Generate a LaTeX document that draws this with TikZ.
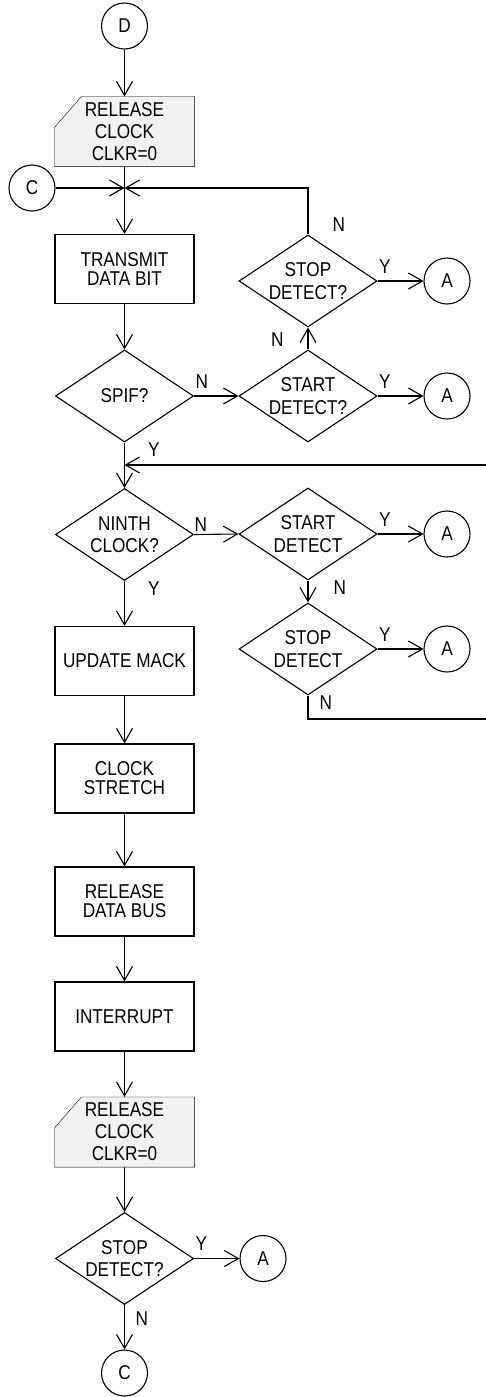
\documentclass[tikz,border=0pt]{standalone}
\usepackage{fontspec}
\setmainfont{Liberation Sans}[FakeStretch=0.86]
\usepackage{tikz}
\usetikzlibrary{arrows.meta,shapes.geometric,backgrounds}
\definecolor{clkgray}{RGB}{242,242,242}

\begin{document}
\begin{tikzpicture}[x=1pt,y=-1pt,line width=1.1pt,
   every node/.style={font=\fontsize{20}{22}\selectfont},
   >={Straight Barb[length=14pt,width=16pt]},
   box/.style={draw,rectangle,minimum width=139pt,minimum height=69pt,inner sep=2pt,
      align=center,font=\fontsize{20}{19}\selectfont},
   clk/.style={rectangle,minimum width=139pt,minimum height=69pt,inner sep=2pt,align=center},
   dec/.style={draw,diamond,minimum width=138pt,minimum height=92pt,inner sep=0pt},
   dtxt/.style={align=center,inner sep=0pt,font=\fontsize{20}{22.5}\selectfont},
   con/.style={draw,circle,minimum size=46pt,inner sep=0pt},
   ylab/.style={pos=0,anchor=base west,inner sep=0pt,xshift=1pt,yshift=8pt},
   dlab/.style={pos=0,anchor=north west,inner sep=0pt}]
\useasboundingbox (0,0) rectangle (485,1397);

\node[con] (d) at (124.5,26) {D};
\node[clk] (rel1) at (124.5,131.5) {RELEASE\\CLOCK\\CLKR=0};
\node[con] (cin) at (32,188) {C};
\coordinate (jc) at (124.5,188);
\node[box] (tx) at (124.5,269) {TRANSMIT\\DATA BIT};
\node[dec,label={[dtxt]center:SPIF?}] (spif) at (124.5,396) {};
\node[dec,label={[dtxt]center:STOP\\DETECT?}] (stop1) at (308,281) {};
\node[con] (a1) at (447,281) {A};
\node[dec,label={[dtxt]center:START\\DETECT?}] (start1) at (308,396) {};
\node[con] (a2) at (447,396) {A};
\coordinate (jn) at (124.5,465);
\node[dec,label={[dtxt]center:NINTH\\CLOCK?}] (ninth) at (124.5,534.5) {};
\node[dec,label={[dtxt]center:START\\DETECT}] (start2) at (308,534) {};
\node[con] (a3) at (447,534) {A};
\node[dec,label={[dtxt]center:STOP\\DETECT}] (stop2) at (308,649) {};
\node[con] (a4) at (447,649) {A};
\coordinate (lp) at (490,719);
\node[box] (upd) at (124.5,661) {UPDATE MACK};
\node[box] (str) at (124.5,778.5) {CLOCK\\STRETCH};
\node[box] (rdb) at (124.5,901.5) {RELEASE\\DATA BUS};
\node[box] (intr) at (124.5,1016.5) {INTERRUPT};
\node[clk] (rel2) at (124.5,1132) {RELEASE\\CLOCK\\CLKR=0};
\node[dec,label={[dtxt]center:STOP\\DETECT?}] (stop3) at (124.5,1258.5) {};
\node[con] (a5) at (263,1258.5) {A};
\node[con] (cout) at (124.5,1373) {C};

\begin{scope}[on background layer]
\foreach \r in {rel1,rel2}
  \draw[fill=clkgray] ([xshift=27pt]\r.north west) -- (\r.north east) -- (\r.south east)
     -- (\r.south west) -- ([yshift=-31pt]\r.north west) -- cycle;
\end{scope}

\draw[->] (d) -- (rel1);
\draw[->] (rel1) -- (tx);
\draw[->] (cin) -- (jc);
\draw[->] (stop1.north) |- node[pos=0,anchor=base west,inner sep=0pt,xshift=24pt,yshift=3pt] {N} (jc);
\draw[->] (tx) -- (spif);
\draw[->] (spif.east) -- node[ylab] {N} (start1.west);
\draw[->] (start1.north) -- node[pos=0,anchor=base east,inner sep=0pt,xshift=-24pt,yshift=3pt] {N} (stop1.south);
\draw[->] (stop1.east) -- node[ylab] {Y} (a1);
\draw[->] (start1.east) -- node[ylab] {Y} (a2);
\draw[->] (spif.south) -- node[dlab,xshift=23pt] {Y} (ninth.north);
\draw[->] (ninth.east) -- node[ylab,xshift=-1pt,yshift=-4.5pt] {N} (start2.west);
\draw[->] (start2.east) -- node[ylab] {Y} (a3);
\draw[->] (start2.south) -- node[dlab,xshift=25pt] {N} (stop2.north);
\draw[->] (stop2.east) -- node[ylab] {Y} (a4);
\draw[->] (stop2.south) |- node[dlab,xshift=11pt] {N} (lp) |- (jn);
\draw[->] (ninth.south) -- node[dlab,xshift=23pt] {Y} (upd);
\draw[->] (upd) -- (str);
\draw[->] (str) -- (rdb);
\draw[->] (rdb) -- (intr);
\draw[->] (intr) -- (rel2);
\draw[->] (rel2) -- (stop3);
\draw[->] (stop3.east) -- node[ylab] {Y} (a5);
\draw[->] (stop3.south) -- node[dlab,xshift=10.5pt,yshift=-6pt] {N} (cout);
\end{tikzpicture}
\end{document}
